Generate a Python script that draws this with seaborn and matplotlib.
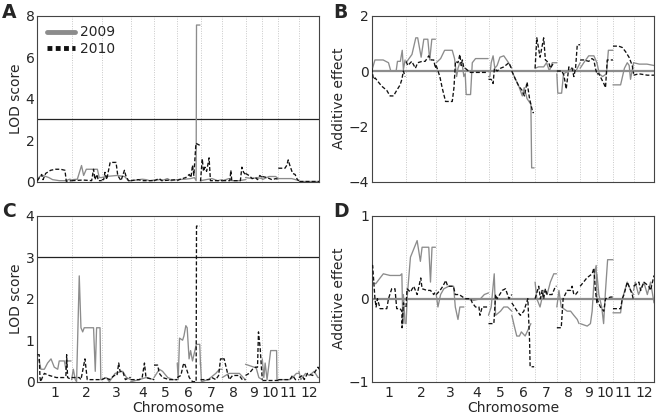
import numpy as np
import pandas as pd
import seaborn as sns
import matplotlib.pyplot as plt
from matplotlib.lines import Line2D
from matplotlib.ticker import MultipleLocator

# chromosome layout (cM)
chrom_names = [str(i) for i in range(1, 13)]
chrom_lengths = [180, 158, 152, 122, 122, 122, 114, 122, 88, 84, 108, 107]

# each series: one list per chromosome of (position cM, value)
lod_a_2009 = [
    [(0, 0.05), (12, 0.25), (30, 0.3), (60, 0.2), (80, 0.1), (115, 0.05), (150, 0.05), (170, 0.12), (178, 0.1)],
    [(0, 0.05), (5, 0.1), (30, 0.12), (52, 0.78), (63, 0.3), (77, 0.6), (135, 0.6), (145, 0.2), (157, 0.2)],
    [(0, 0.2), (20, 0.25), (80, 0.3), (120, 0.25), (140, 0.05), (152, 0.05)],
    [(0, 0.05), (30, 0.08), (60, 0.12), (80, 0.1), (100, 0.05), (122, 0.08)],
    [(0, 0.05), (30, 0.1), (50, 0.08), (70, 0.15), (90, 0.05), (122, 0.1)],
    [(0, 0.1), (40, 0.12), (70, 0.15), (90, 0.2), (99, 0.05), (101, 7.55), (119, 7.55)],
    [(0, 0.05), (30, 0.1), (60, 0.15), (90, 0.05), (114, 0.1)],
    [(0, 0.05), (18, 0.1), (35, 0.15), (50, 0.05), (90, 0.05), (122, 0.1)],
    [(0, 0.2), (35, 0.15), (60, 0.2), (88, 0.15)],
    [(0, 0.1), (35, 0.25), (70, 0.25), (84, 0.15)],
    [(0, 0.15), (70, 0.15), (90, 0.1), (108, 0.05)],
    [(0, 0.03), (107, 0.03)],
]
lod_a_2010 = [
    [(0, 0.05), (23, 0.35), (30, 0.1), (44, 0.4), (70, 0.55), (96, 0.6), (122, 0.6), (145, 0.55), (152, 0.02), (180, 0.05)],
    [(0, 0.05), (60, 0.08), (105, 0.05), (115, 0.6), (122, 0.1), (133, 0.35), (140, 0.05), (158, 0.05)],
    [(0, 0.1), (10, 0.1), (17, 0.45), (26, 0.1), (44, 0.93), (75, 0.93), (84, 0.3), (101, 0.05), (119, 0.55), (126, 0.3), (140, 0.05), (152, 0.05)],
    [(0, 0.05), (40, 0.1), (60, 0.05), (122, 0.05)],
    [(0, 0.05), (28, 0.15), (40, 0.05), (122, 0.1)],
    [(0, 0.05), (10, 0.1), (45, 0.2), (63, 0.35), (72, 0.2), (80, 0.8), (87, 0.3), (98, 1.85), (119, 1.75)],
    [(0, 0.02), (9, 1.1), (16, 0.5), (23, 0.7), (32, 0.5), (45, 1.15), (52, 0.05), (114, 0.05)],
    [(0, 0.05), (40, 0.05), (45, 0.55), (50, 0.05), (95, 0.05), (103, 0.7), (112, 0.45), (122, 0.35)],
    [(0, 0.4), (18, 0.3), (35, 0.15), (52, 0.2), (63, 0.1), (75, 0.3), (88, 0.2)],
    [(0, 0.25), (25, 0.2), (50, 0.1), (72, 0.15), (84, 0.1)],
    [(0, 0.65), (35, 0.65), (45, 0.8), (52, 1.05), (60, 0.8), (75, 0.4), (88, 0.35), (100, 0.1), (108, 0.05)],
    [(0, 0.05), (107, 0.05)],
]
add_b_2009 = [
    [(0, 0), (17, 0.4), (60, 0.4), (88, 0.3), (100, 0), (128, 0), (135, 0.35), (150, 0.35), (160, 0.75), (166, 0.05), (175, 0.4)],
    [(0, 0.3), (31, 0.6), (51, 1.2), (61, 1.2), (79, 0.5), (93, 1.15), (114, 1.15), (124, 0.4), (135, 1.15), (154, 1.15)],
    [(0, 0.3), (23, 0.45), (44, 0.75), (84, 0.75), (96, 0.45), (107, -0.2), (114, 0.1), (124, 0.3), (137, 0.2), (145, -0.2), (152, -0.1)],
    [(0, -0.1), (5, -0.85), (28, -0.85), (37, 0.3), (54, 0.45), (120, 0.45)],
    [(0, -0.2), (7, -0.2), (14, 0.3), (24, 0.55), (33, 0.1), (45, 0.2), (60, 0.5), (80, 0.55), (105, 0.3), (122, 0.1)],
    [(0, 0), (20, -0.3), (37, -0.55), (55, -0.9), (65, -0.6), (80, -1.0), (100, -1.2), (104, -3.5), (117, -3.5)],
    [(0, 0.1), (18, 0.15), (45, 0.15), (60, 0.3), (75, 0), (90, 0.3), (114, 0.3)],
    [(0, -0.1), (5, -0.8), (25, -0.8), (35, -0.1), (60, 0), (80, 0.1), (100, 0), (122, 0.3)],
    [(0, 0.1), (19, 0.3), (45, 0.55), (72, 0.55), (88, 0.3)],
    [(0, 0.3), (12, -0.1), (30, -0.2), (50, -0.1), (60, 0.75), (84, 0.75)],
    [(0, -0.5), (40, -0.5), (60, 0.1), (75, 0.3), (85, 0.2), (92, -0.3), (108, 0.3)],
    [(0, 0.3), (30, 0.25), (70, 0.25), (107, 0.2)],
]
add_b_2010 = [
    [(0, 0.1), (9, -0.3), (18, -0.25), (35, -0.4), (53, -0.55), (79, -0.7), (96, -0.9), (114, -0.9), (131, -0.7), (149, -0.5), (158, -0.3), (166, 0), (175, -0.2)],
    [(0, 0.35), (9, 0.2), (30, 0.35), (49, 0.1), (61, 0.3), (84, 0.35), (100, 0.35), (119, 0.55), (131, 0.4), (145, 0.4), (154, 0.1), (158, 0.2)],
    [(0, 0.2), (19, -0.2), (31, -0.6), (49, -1.1), (84, -1.1), (93, -0.6), (101, 0.35), (114, 0.3), (124, 0.6), (131, 0.2), (137, 0.4), (145, 0.1), (152, 0.1)],
    [(0, 0.1), (26, -0.05), (120, -0.05)],
    [(0, -0.3), (14, -0.3), (24, -0.45), (31, 0.1), (45, 0.0), (63, 0.1), (80, 0.15), (107, 0.3), (122, 0.05)],
    [(0, 0), (19, -0.3), (37, -0.55), (54, -0.7), (66, -0.9), (80, -0.4), (93, -1.0), (110, -1.5), (116, -1.5)],
    [(0, 0.1), (9, 1.2), (26, 0.5), (45, 1.2), (54, 0.4), (72, 0.3), (80, 0.1), (98, 0.3)],
    [(0, 0), (26, 0), (37, -0.15), (49, -0.65), (63, 0.15), (80, 0.1), (89, -0.2), (98, 0.1), (107, 0.95), (122, 0.95)],
    [(0, 0.4), (20, 0.4), (45, 0.35), (62, 0.45), (72, 0.4), (80, 0.1), (88, -0.1)],
    [(0, -0.1), (10, -0.1), (36, -0.45), (45, -0.6), (54, 0.4), (84, 0.4)],
    [(0, 0.9), (30, 0.9), (49, 0.85), (66, 0.7), (84, 0.5), (101, 0.2), (108, -0.1)],
    [(0, -0.15), (28, -0.1), (72, -0.15), (107, -0.15)],
]
lod_c_2009 = [
    [(0, 0.55), (10, 0.5), (19, 0.3), (37, 0.3), (54, 0.45), (72, 0.55), (89, 0.35), (107, 0.3), (115, 0.5), (142, 0.5), (150, 0.3), (159, 0.5), (177, 0.5)],
    [(0, 0.05), (9, 0.3), (19, 0.05), (26, 0), (40, 2.55), (49, 1.3), (58, 1.2), (66, 1.3), (115, 1.3), (124, 0.25), (131, 1.3), (149, 1.3), (153, 0.05), (158, 0.05)],
    [(0, 0.05), (23, 0.1), (40, 0.0), (70, 0.2), (110, 0.25), (130, 0.1), (152, 0.05)],
    [(0, 0), (45, 0.05), (80, 0.1), (122, 0.05)],
    [(0, 0.1), (28, 0.3), (45, 0.25), (72, 0.1), (100, 0.05), (122, 0.05)],
    [(0, 0.45), (5, 0.05), (12, 1.05), (28, 1.0), (35, 1.1), (45, 1.35), (52, 1.3), (62, 0.55), (70, 0.75), (80, 0.5), (100, 0.9), (118, 0.9), (122, 0.4)],
    [(0, 0.45), (5, 0), (40, 0.05), (80, 0.2), (100, 0.3), (114, 0.3)],
    [(0, 0.1), (35, 0.2), (90, 0.2), (110, 0.1), (122, 0.05)],
    [(0, 0.42), (45, 0.35), (55, 0.35), (70, 0.1), (88, 0.05)],
    [(0, 0.55), (8, 0.1), (15, 0.45), (25, 0.05), (44, 0.75), (75, 0.75), (77, 0.05), (84, 0.05)],
    [(0, 0.05), (60, 0.05), (75, 0.1), (95, 0.2), (108, 0.2)],
    [(0, 0.25), (10, 0.05), (35, 0.2), (55, 0.15), (80, 0.25), (100, 0.1), (107, 0.1)],
]
lod_c_2010 = [
    [(0, 0.65), (10, 0.65), (14, 0.1), (18, 0), (26, 0.1), (37, 0.2), (63, 0.15), (100, 0.1), (140, 0.1), (150, 0.15), (154, 0.65), (159, 0.1), (180, 0.05)],
    [(0, 0.1), (40, 0.1), (49, 0.05), (70, 0.55), (82, 0.05), (158, 0.05)],
    [(0, 0.05), (23, 0.1), (40, 0.05), (66, 0.15), (80, 0.15), (89, 0.45), (96, 0.25), (110, 0.25), (124, 0.05), (145, 0.1), (152, 0.1)],
    [(0, 0.05), (45, 0.05), (60, 0.1), (72, 0.45), (80, 0.1), (122, 0.05)],
    [(0, 0.4), (19, 0.4), (28, 0.2), (45, 0.1), (80, 0.05), (122, 0.05)],
    [(0, 0.1), (19, 0.15), (31, 0.4), (37, 0.45), (49, 0.3), (63, 0.1), (80, 0), (99, 0), (101, 3.75), (119, 3.75)],
    [(0, 0.05), (45, 0.05), (60, 0.1), (80, 0.05), (95, 0.15), (105, 0.55), (114, 0.55)],
    [(0, 0.55), (10, 0.55), (28, 0.2), (37, 0.05), (54, 0.15), (89, 0.15), (105, 0.05), (122, 0.05)],
    [(0, 0.15), (19, 0.2), (37, 0.3), (54, 0.35), (63, 0.35), (68, 1.2), (77, 0.8), (84, 0.3), (88, 0.05)],
    [(0, 0.05), (84, 0.05)],
    [(0, 0.05), (60, 0.05), (75, 0.15), (90, 0.05), (108, 0.05)],
    [(0, 0.1), (19, 0.15), (28, 0.05), (45, 0.2), (72, 0.15), (100, 0.35), (107, 0.3)],
]
add_d_2009 = [
    [(0, 0.2), (5, 0.2), (21, 0.18), (44, 0.25), (61, 0.3), (96, 0.28), (149, 0.28), (158, 0.3), (163, -0.3), (166, 0.05), (175, -0.3)],
    [(0, -0.3), (7, 0.05), (23, 0.5), (58, 0.7), (75, 0.45), (84, 0.62), (119, 0.62), (128, 0.2), (136, 0.62), (154, 0.62)],
    [(0, 0.05), (9, -0.1), (23, 0.05), (40, 0.12), (66, 0.15), (91, 0.15), (100, -0.1), (114, -0.25), (124, -0.1), (145, -0.1)],
    [(0, 0), (45, -0.02), (80, 0), (100, 0.05), (122, 0.07)],
    [(0, -0.2), (14, -0.1), (30, 0.3), (37, -0.2), (63, -0.15), (80, -0.1), (100, -0.1), (122, -0.15)],
    [(0, -0.2), (10, -0.3), (26, -0.45), (40, -0.45), (50, -0.4), (70, -0.45), (90, -0.35), (100, -0.3)],
    [(0, 0.2), (9, 0), (26, -0.1), (45, 0.1), (63, 0.05), (80, 0.2), (98, 0.3), (112, 0.3)],
    [(0, -0.1), (11, 0.1), (23, -0.1), (54, -0.15), (72, -0.15), (89, -0.2), (107, -0.25), (116, -0.3)],
    [(0, -0.3), (37, -0.33), (54, -0.3), (63, -0.15), (75, 0.3), (84, 0.4), (88, -0.05)],
    [(0, 0.3), (10, 0.05), (25, -0.1), (35, -0.3), (45, 0.1), (56, 0.47), (84, 0.47)],
    [(0, -0.17), (40, -0.17), (49, 0), (75, 0.2), (93, 0.1), (108, 0.05)],
    [(0, 0.1), (9, 0.2), (26, 0.05), (54, 0.2), (72, 0.05), (89, 0.2), (107, -0.05)],
]
add_d_2010 = [
    [(0, 0.4), (5, 0.4), (17, 0), (23, -0.1), (30, 0), (44, -0.12), (79, -0.12), (88, 0), (105, 0.12), (122, 0.12), (131, -0.12), (149, -0.12), (158, -0.15), (159, -0.35), (166, -0.05), (175, -0.1)],
    [(0, -0.1), (5, 0.12), (23, 0.08), (40, 0.15), (58, 0.05), (77, 0.25), (84, 0.12), (110, 0.1), (128, 0.1), (145, 0.05), (158, 0.1)],
    [(0, 0.05), (20, 0.1), (35, 0.15), (50, 0.22), (60, 0.15), (90, 0.15), (100, 0.05), (120, 0.05), (152, 0)],
    [(0, 0), (28, 0), (37, -0.05), (54, -0.1), (72, -0.1), (77, -0.2), (89, -0.1), (119, -0.1)],
    [(0, -0.3), (28, -0.3), (37, 0.05), (45, 0), (72, 0.1), (89, 0.12), (107, 0), (122, 0.05)],
    [(0, -0.05), (28, -0.15), (45, -0.2), (63, -0.15), (84, 0), (93, -0.5), (96, -0.82), (117, -0.82)],
    [(0, 0), (19, 0.15), (28, 0), (37, 0.1), (45, 0), (54, 0.12), (63, 0.05), (89, 0.05), (107, 0.15), (112, 0.15)],
    [(0, -0.35), (23, -0.35), (33, 0), (54, 0.1), (72, 0.1), (80, 0.15), (89, 0.05), (98, 0.05), (115, 0.1)],
    [(0, 0.15), (18, 0.2), (35, 0.25), (63, 0.3), (72, 0.37), (80, 0.1), (88, -0.05)],
    [(0, 0), (18, -0.1), (36, -0.15), (45, 0), (72, 0.02), (84, 0.02)],
    [(0, -0.12), (40, -0.12), (49, 0), (58, 0.05), (75, 0.2), (84, 0.15), (101, 0.05), (108, -0.02)],
    [(0, 0.15), (28, 0.2), (37, 0.1), (54, 0.2), (80, 0.15), (89, 0.1), (107, 0.28)],
]

GRAY = '#8c8c8c'
BLACK = '#111111'

offsets = np.concatenate([[0], np.cumsum(chrom_lengths)[:-1]])
total_len = sum(chrom_lengths)
mids = offsets + np.array(chrom_lengths) / 2


def to_frame(series):
    rows = []
    for i, chrom in enumerate(series):
        for cm, val in chrom:
            rows.append({'chrom': i + 1, 'pos': offsets[i] + cm, 'value': val})
    return pd.DataFrame(rows)


def draw_panel(ax, s2009, s2010, ylim, ref, ref_style, major, minor, ylabel, bottom):
    for b in offsets[1:]:
        ax.axvline(b, color='#c8c8c8', lw=0.7, ls=(0, (1, 1.5)), zorder=0)
    ax.axhline(ref, zorder=1, **ref_style)
    sns.lineplot(data=to_frame(s2009), x='pos', y='value', units='chrom', estimator=None,
                 sort=False, color=GRAY, lw=0.95, ax=ax, zorder=2)
    sns.lineplot(data=to_frame(s2010), x='pos', y='value', units='chrom', estimator=None,
                 sort=False, color=BLACK, lw=0.95, ls=(0, (3, 1.6)), ax=ax, zorder=3)
    ax.set_xlim(0, total_len)
    ax.set_ylim(*ylim)
    ax.yaxis.set_major_locator(MultipleLocator(major))
    if minor:
        ax.yaxis.set_minor_locator(MultipleLocator(minor))
    ax.tick_params(axis='y', which='both', direction='in', length=3, labelsize=10,
                   color='#333333', pad=2)
    ax.set_ylabel(ylabel, fontsize=10, labelpad=2)
    ax.set_xticks(mids)
    if bottom:
        ax.set_xticklabels(chrom_names, fontsize=10)
        ax.set_xlabel('Chromosome', fontsize=10, labelpad=1)
    else:
        ax.set_xticklabels([])
        ax.set_xlabel('')
    ax.tick_params(axis='x', length=0, pad=3)
    for sp in ax.spines.values():
        sp.set_visible(True)
        sp.set_color('#444444')
        sp.set_linewidth(0.8)


sns.set_style('white')
plt.rcParams['font.family'] = ['DejaVu Sans']

fig = plt.figure(figsize=(6.57, 4.15), dpi=100)
W, H = 657, 415


def box(l, t, r, b):
    return [l / W, 1 - b / H, (r - l) / W, (b - t) / H]


ax_a = fig.add_axes(box(37.3, 15.7, 319.3, 181.7))
ax_b = fig.add_axes(box(371.7, 15.7, 654, 181.7))
ax_c = fig.add_axes(box(37.3, 215.7, 319.3, 381.7))
ax_d = fig.add_axes(box(371.7, 215.7, 654, 381.7))

lod_line = dict(color='#222222', lw=0.9)
zero_line = dict(color='#8c8c8c', lw=1.6)

draw_panel(ax_a, lod_a_2009, lod_a_2010, (0, 8), 3, lod_line, 2, 1, 'LOD score', False)
draw_panel(ax_b, add_b_2009, add_b_2010, (-4, 2), 0, zero_line, 2, 1, 'Additive effect', False)
draw_panel(ax_c, lod_c_2009, lod_c_2010, (0, 4), 3, lod_line, 1, None, 'LOD score', True)
draw_panel(ax_d, add_d_2009, add_d_2010, (-1, 1), 0, zero_line, 1, 0.5, 'Additive effect', True)

handles = [Line2D([], [], color=GRAY, lw=3.5),
           Line2D([], [], color=BLACK, lw=3.5, ls=(0, (1, 0.7)))]
ax_a.legend(handles, ['2009', '2010'], loc='upper left', frameon=False, fontsize=10,
            handlelength=2.0, handletextpad=0.4, labelspacing=0.2, borderaxespad=0.3)

for label, x, y in [('A', 2, 3), ('B', 333, 3), ('C', 2, 202), ('D', 333, 202)]:
    fig.text(x / W, 1 - y / H, label, fontsize=13.5, fontweight='bold', va='top', ha='left')

fig.savefig('out.png', dpi=100)
